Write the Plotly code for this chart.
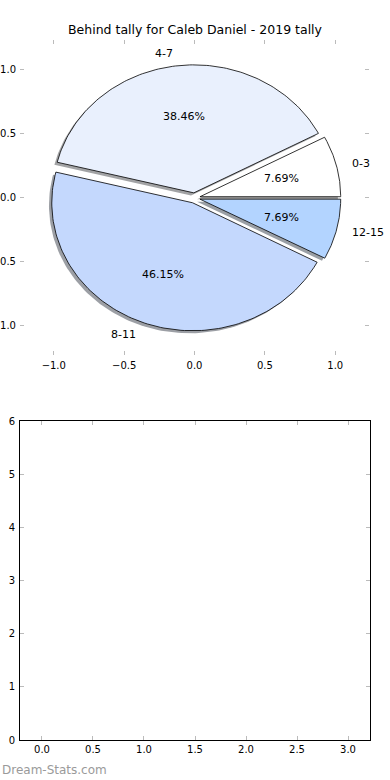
import numpy as np
import plotly.graph_objects as go

# ---- data ----
labels = ["0-3", "4-7", "8-11", "12-15"]
counts = [1, 5, 6, 1]
colors = ["#ffffff", "#e9f0fd", "#c4d8fd", "#b3d4ff"]
explode = [0.04, 0.04, 0.04, 0.04]
title = "Behind tally for Caleb Daniel - 2019 tally"
pie_ticks = [-1.0, -0.5, 0.0, 0.5, 1.0]
bottom_xticks = [0.0, 0.5, 1.0, 1.5, 2.0, 2.5, 3.0]
bottom_yticks = [0, 1, 2, 3, 4, 5, 6]

FONT = "DejaVu Sans"
fig = go.Figure()

vals = np.array(counts, dtype=float)
fracs = vals / vals.sum()
cum = np.concatenate([[0.0], np.cumsum(fracs)]) * 360.0


def hex_to_rgb(h):
    h = h.lstrip("#")
    return tuple(int(h[i:i + 2], 16) for i in (0, 2, 4))


wedges = []
for i, lab in enumerate(labels):
    t1, t2 = cum[i], cum[i + 1]
    mid = np.deg2rad((t1 + t2) / 2)
    cx, cy = explode[i] * np.cos(mid), explode[i] * np.sin(mid)
    th = np.deg2rad(np.linspace(t1, t2, 120))
    xs = np.concatenate([[cx], cx + np.cos(th), [cx]])
    ys = np.concatenate([[cy], cy + np.sin(th), [cy]])
    wedges.append((xs, ys, cx, cy, mid))

# shadows
for i, (xs, ys, cx, cy, mid) in enumerate(wedges):
    r, g, b = hex_to_rgb(colors[i])
    fig.add_trace(go.Scatter(
        x=xs - 0.02, y=ys - 0.02, mode="lines", fill="toself",
        fillcolor=f"rgba({int(r*0.3)},{int(g*0.3)},{int(b*0.3)},0.5)",
        line=dict(width=0), hoverinfo="skip", showlegend=False,
        xaxis="x", yaxis="y"))

# wedges
for i, (xs, ys, cx, cy, mid) in enumerate(wedges):
    fig.add_trace(go.Scatter(
        x=xs, y=ys, mode="lines", fill="toself", fillcolor=colors[i],
        line=dict(color="black", width=0.8), hoverinfo="skip",
        showlegend=False, xaxis="x", yaxis="y"))

annotations = []
for i, (xs, ys, cx, cy, mid) in enumerate(wedges):
    lx, ly = cx + 1.1 * np.cos(mid), cy + 1.1 * np.sin(mid)
    annotations.append(dict(
        x=lx, y=ly, xref="x", yref="y", text=labels[i], showarrow=False,
        xanchor="left" if lx > 0 else "right", yanchor="middle",
        font=dict(family=FONT, size=11, color="black")))
    px, py = cx + 0.6 * np.cos(mid), cy + 0.6 * np.sin(mid)
    annotations.append(dict(
        x=px, y=py, xref="x", yref="y", text=f"{fracs[i]*100:.2f}%",
        showarrow=False, xanchor="center", yanchor="middle",
        font=dict(family=FONT, size=11, color="black")))

annotations.append(dict(
    x=195 / 390, y=1 - 30 / 780, xref="paper", yref="paper", text=title,
    showarrow=False, xanchor="center", yanchor="middle",
    font=dict(family=FONT, size=12.5, color="black")))
annotations.append(dict(
    x=0, y=1 - 770 / 780, xref="paper", yref="paper", text="Dream-Stats.com",
    showarrow=False, xanchor="left", yanchor="middle",
    font=dict(family=FONT, size=12, color="#9a9a9a")))

# empty trace on bottom axes
fig.add_trace(go.Scatter(x=[], y=[], xaxis="x2", yaxis="y2", showlegend=False))

tickfont = dict(family=FONT, size=10, color="black")
common = dict(ticks="inside", ticklen=4, tickcolor="#bbbbbb", tickwidth=1,
              showgrid=False, zeroline=False, tickfont=tickfont, mirror="ticks",
              automargin=False)

fig.update_layout(
    width=390, height=780, margin=dict(l=0, r=0, t=0, b=0),
    paper_bgcolor="white", plot_bgcolor="white", showlegend=False,
    xaxis=dict(domain=[20 / 390, 369 / 390], range=[-1.24, 1.24],
               tickvals=pie_ticks, ticktext=[f"{v:.1f}".replace("-", "\u2212") for v in pie_ticks],
               anchor="y", showline=False, ticklabelstandoff=3, **common),
    yaxis=dict(domain=[1 - 355 / 780, 1 - 40 / 780], range=[-1.227, 1.234],
               tickvals=pie_ticks, ticktext=[f"{v:.1f}".replace("-", "\u2212") for v in pie_ticks],
               anchor="x", showline=False, ticklabelstandoff=3, **common),
    xaxis2=dict(domain=[20 / 390, 370 / 390], range=[-0.2155, 3.2155],
                tickvals=bottom_xticks, ticktext=[f"{v:.1f}" for v in bottom_xticks],
                anchor="y2", showline=True, linecolor="black", linewidth=1, **common),
    yaxis2=dict(domain=[1 - 740 / 780, 1 - 421 / 780], range=[0, 6],
                tickvals=bottom_yticks, ticktext=[str(v) for v in bottom_yticks],
                anchor="x2", showline=True, linecolor="black", linewidth=1,
                ticklabelstandoff=2, **common),
    annotations=annotations,
)

fig.write_html(
    "out.html",
    config={"displayModeBar": False},
    post_script="document.body.style.margin='0';document.body.style.padding='0';",
)
